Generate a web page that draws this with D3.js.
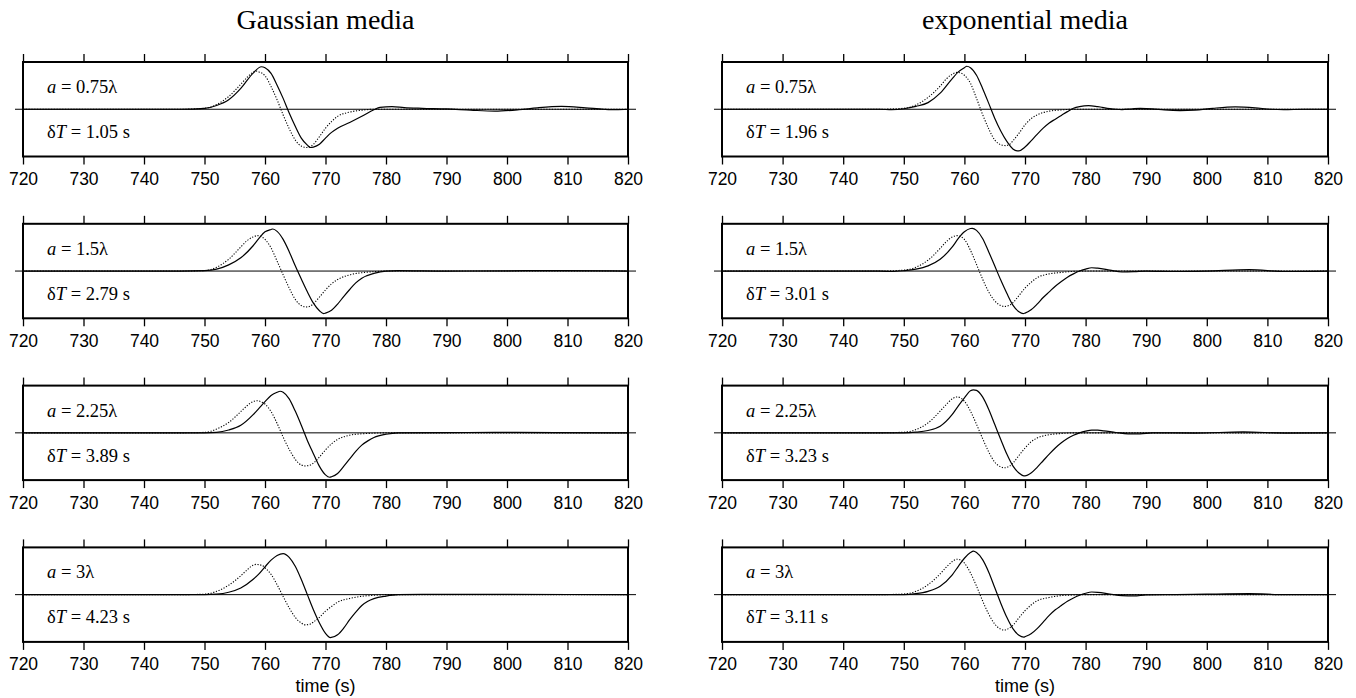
<!DOCTYPE html>
<html>
<head>
<meta charset="utf-8">
<script src="https://cdn.jsdelivr.net/npm/d3@7"></script>
<style>
  html, body { margin: 0; padding: 0; background: #fff; }
  svg { display: block; }
</style>
</head>
<body>
<svg id="chart" width="1356" height="698"></svg>
<script>
// ---------------- DATA ----------------
const tickValues = [720, 730, 740, 750, 760, 770, 780, 790, 800, 810, 820];
const columnTitles = ["Gaussian media", "exponential media"];
const aLabels = ["0.75λ", "1.5λ", "2.25λ", "3λ"];
const dTGauss = ["1.05", "2.79", "3.89", "4.23"];
const dTExp = ["1.96", "3.01", "3.23", "3.11"];

// Gaussian media, a = 0.75λ
const g1Solid = [[720,0],[740,0],[746,0],[750,0.02],[752,0.08],[754,0.2],[756,0.44],[758,0.76],[759.4,0.9],[760,0.88],[761,0.76],[762,0.51],[763,0.23],[764,-0.08],[765,-0.36],[766,-0.61],[767,-0.76],[767.5,-0.81],[768,-0.8],[769,-0.74],[770,-0.61],[771,-0.49],[772,-0.4],[774,-0.28],[776,-0.15],[778,-0.01],[779,0.04],[781,0.056],[783,0.035],[786,0.02],[790,0.007],[794,-0.02],[798,-0.04],[802,-0.01],[805,0.03],[809,0.06],[813,0.03],[816,0],[818,-0.01],[820,0]];
const g1Dot = [[720,0],[746,0],[750,0.02],[752,0.1],[754,0.27],[756,0.53],[757,0.67],[758,0.78],[758.5,0.81],[759,0.79],[760,0.71],[761,0.48],[762,0.2],[763,-0.12],[764,-0.41],[765,-0.65],[766,-0.78],[767,-0.81],[768,-0.74],[769,-0.58],[770,-0.4],[771,-0.26],[772,-0.15],[774,-0.06],[776,-0.02],[778,0],[820,0]];
// Gaussian media, a = 1.5λ
const g2Solid = [[720,0],[746,0],[750,0.01],[752,0.04],[754,0.13],[756,0.28],[758,0.53],[759,0.69],[760,0.83],[761,0.88],[761.3,0.89],[762,0.84],[763,0.67],[764,0.41],[765,0.11],[766,-0.17],[767,-0.44],[768,-0.68],[769,-0.84],[769.7,-0.9],[770,-0.89],[771,-0.83],[772,-0.7],[773,-0.54],[774,-0.39],[775,-0.25],[776,-0.15],[778,-0.05],[780,0],[782,0.01],[790,0],[800,0.005],[809,0.01],[820,0]];
const g2Dot = [[720,0],[746,0],[750,0.01],[752,0.08],[754,0.25],[756,0.51],[757,0.64],[758,0.72],[758.8,0.75],[759.5,0.72],[760,0.67],[761,0.49],[762,0.21],[763,-0.08],[764,-0.36],[765,-0.6],[766,-0.73],[766.8,-0.76],[767.5,-0.74],[768,-0.69],[769,-0.55],[770,-0.4],[771,-0.27],[772,-0.18],[774,-0.08],[776,-0.035],[778,-0.014],[780,0],[820,0]];
// Gaussian media, a = 2.25λ
const g3Solid = [[720,0],[746,0],[750,0],[752,0.01],[754,0.06],[756,0.16],[758,0.38],[759,0.52],[760,0.66],[761,0.79],[762,0.86],[762.5,0.88],[763,0.86],[764,0.72],[765,0.46],[766,0.16],[767,-0.16],[768,-0.44],[769,-0.71],[770,-0.89],[770.7,-0.94],[771,-0.93],[772,-0.86],[773,-0.71],[774,-0.55],[775,-0.39],[776,-0.26],[777,-0.17],[778,-0.1],[780,-0.03],[782,0],[790,0.005],[798,0.01],[808,0.005],[820,0]];
const g3Dot = [[720,0],[746,0],[750,0.01],[752,0.08],[754,0.22],[756,0.45],[757,0.57],[758,0.66],[758.6,0.68],[759.5,0.65],[760,0.61],[761,0.45],[762,0.2],[763,-0.09],[764,-0.35],[765,-0.56],[766,-0.68],[766.7,-0.7],[767.5,-0.68],[768,-0.64],[769,-0.51],[770,-0.36],[771,-0.23],[772,-0.14],[774,-0.05],[776,-0.02],[778,-0.007],[780,0],[820,0]];
// Gaussian media, a = 3λ
const g4Solid = [[720,0],[746,0],[750,0],[752,0.01],[754,0.05],[756,0.14],[758,0.32],[759,0.44],[760,0.59],[761,0.73],[762,0.83],[763,0.87],[764,0.79],[765,0.6],[766,0.32],[767,0],[768,-0.32],[769,-0.6],[770,-0.82],[770.8,-0.91],[772,-0.85],[773,-0.71],[774,-0.53],[775,-0.37],[776,-0.23],[777,-0.14],[778,-0.085],[780,-0.03],[782,0],[786,0.007],[800,0.005],[820,0]];
const g4Dot = [[720,0],[746,0],[750,0.01],[752,0.07],[754,0.2],[756,0.4],[757,0.52],[758,0.62],[758.5,0.64],[759.5,0.62],[760,0.57],[761,0.43],[762,0.21],[763,-0.04],[764,-0.28],[765,-0.48],[766,-0.6],[766.7,-0.64],[767.5,-0.62],[768,-0.58],[769,-0.48],[770,-0.35],[771,-0.25],[772,-0.16],[774,-0.08],[776,-0.035],[778,-0.014],[780,0],[820,0]];

// exponential media, a = 0.75λ
const e1Solid = [[720,0],[746,0],[748,-0.01],[750,0.01],[752,0.06],[754,0.14],[756,0.34],[758,0.65],[759,0.79],[760,0.88],[760.4,0.91],[761,0.88],[762,0.72],[763,0.44],[764,0.13],[765,-0.19],[766,-0.46],[767,-0.68],[768,-0.84],[768.7,-0.88],[769,-0.88],[770,-0.8],[771,-0.67],[772,-0.53],[773,-0.4],[774,-0.29],[775,-0.21],[776,-0.13],[777,-0.05],[778,0.02],[779,0.056],[780.5,0.077],[782,0.056],[784,0.014],[785,0],[786,-0.007],[787.5,0.005],[789,0.02],[791,0.01],[793,-0.015],[795.6,-0.03],[798,-0.02],[801,0.02],[804.7,0.05],[808,0.03],[810.5,0],[812.7,-0.01],[816,0],[820,0]];
const e1Dot = [[720,0],[746,0],[750,0.02],[752,0.09],[754,0.25],[756,0.49],[757,0.64],[758,0.74],[758.8,0.78],[759.5,0.76],[760,0.72],[761,0.55],[762,0.23],[763,-0.11],[764,-0.41],[765,-0.65],[766,-0.75],[766.8,-0.77],[767.5,-0.74],[768,-0.67],[769,-0.51],[770,-0.33],[771,-0.2],[772,-0.12],[774,-0.04],[776,-0.014],[778,0],[820,0]];
// exponential media, a = 1.5λ
const e2Solid = [[720,0],[746,0],[748,-0.01],[750,0.007],[752,0.04],[754,0.11],[756,0.25],[758,0.51],[759,0.69],[760,0.83],[761,0.9],[761.3,0.905],[762,0.86],[763,0.69],[764,0.41],[765,0.11],[766,-0.19],[767,-0.47],[768,-0.72],[769,-0.86],[769.7,-0.9],[770,-0.89],[771,-0.82],[772,-0.7],[773,-0.56],[774,-0.44],[775,-0.32],[776,-0.22],[777,-0.13],[778,-0.06],[779,0],[780,0.04],[781,0.07],[782,0.06],[784,0.02],[786,-0.02],[788,-0.014],[790,0],[795,-0.01],[800,0],[807,0.03],[813,-0.01],[820,0]];
const e2Dot = [[720,0],[746,0],[750,0.02],[752,0.08],[754,0.23],[756,0.48],[757,0.62],[758,0.72],[758.8,0.75],[759.5,0.72],[760,0.67],[761,0.44],[762,0.14],[763,-0.17],[764,-0.44],[765,-0.63],[766,-0.73],[766.6,-0.75],[767.5,-0.72],[768,-0.67],[769,-0.52],[770,-0.36],[771,-0.24],[772,-0.14],[774,-0.06],[776,-0.03],[778,-0.007],[780,0],[820,0]];
// exponential media, a = 2.25λ
const e3Solid = [[720,0],[746,0],[750,0],[752,0.014],[754,0.05],[756,0.14],[758,0.39],[759,0.57],[760,0.74],[761,0.89],[761.5,0.91],[762,0.9],[763,0.76],[764,0.5],[765,0.18],[766,-0.14],[767,-0.45],[768,-0.7],[769,-0.85],[769.8,-0.91],[770,-0.91],[771,-0.85],[772,-0.73],[773,-0.59],[774,-0.45],[775,-0.32],[776,-0.21],[777,-0.12],[778,-0.05],[779,0],[780,0.035],[781,0.057],[782,0.057],[783,0.043],[785,0.007],[787,-0.02],[789,-0.02],[791,0],[798,-0.005],[806,0.02],[813,-0.005],[820,0]];
const e3Dot = [[720,0],[746,0],[750,0.014],[752,0.07],[754,0.21],[756,0.46],[757,0.6],[758,0.72],[758.8,0.76],[759.5,0.73],[760,0.67],[761,0.46],[762,0.18],[763,-0.12],[764,-0.4],[765,-0.62],[766,-0.72],[766.6,-0.74],[767.5,-0.7],[768,-0.64],[769,-0.48],[770,-0.32],[771,-0.19],[772,-0.11],[774,-0.04],[776,-0.014],[778,0],[820,0]];
// exponential media, a = 3λ
const e4Solid = [[720,0],[746,0],[750,0],[752,0.02],[754,0.07],[756,0.18],[758,0.42],[759,0.6],[760,0.77],[761,0.89],[761.5,0.92],[762,0.89],[763,0.74],[764,0.48],[765,0.15],[766,-0.18],[767,-0.48],[768,-0.72],[769,-0.86],[769.8,-0.9],[770,-0.89],[771,-0.83],[772,-0.72],[773,-0.58],[774,-0.44],[775,-0.32],[776,-0.23],[777,-0.14],[778,-0.07],[779,-0.014],[780,0.03],[781,0.056],[782,0.05],[784,0.014],[786,-0.02],[788,-0.028],[790,-0.007],[795,0],[800,0.01],[807,0.02],[813,0],[820,0]];
const e4Dot = [[720,0],[746,0],[750,0.014],[752,0.07],[754,0.21],[756,0.44],[757,0.58],[758,0.7],[758.8,0.75],[759.5,0.73],[760,0.67],[761,0.46],[762,0.18],[763,-0.13],[764,-0.41],[765,-0.62],[766,-0.73],[766.6,-0.75],[767.5,-0.7],[768,-0.65],[769,-0.49],[770,-0.34],[771,-0.22],[772,-0.13],[774,-0.06],[776,-0.02],[778,-0.007],[780,0],[820,0]];

const gaussSolid = [g1Solid, g2Solid, g3Solid, g4Solid];
const gaussDot = [g1Dot, g2Dot, g3Dot, g4Dot];
const expSolid = [e1Solid, e2Solid, e3Solid, e4Solid];
const expDot = [e1Dot, e2Dot, e3Dot, e4Dot];

// ---------------- LAYOUT ----------------
const svg = d3.select("#chart");
const colX = [[23, 628], [722, 1328]];
const panelTop0 = 62, panelStep = 161.8, panelH = 94.5;
const serif = "'Liberation Serif', 'Times New Roman', serif";
const sans = "'Liberation Sans', Arial, Helvetica, sans-serif";

const columns = [
  { solid: gaussSolid, dot: gaussDot, dT: dTGauss, title: columnTitles[0] },
  { solid: expSolid, dot: expDot, dT: dTExp, title: columnTitles[1] }
];

columns.forEach((col, ci) => {
  const [x0, x1] = colX[ci];
  const x = d3.scaleLinear().domain([720, 820]).range([x0, x1]);

  svg.append("text")
    .attr("x", (x0 + x1) / 2).attr("y", 28.5)
    .attr("text-anchor", "middle")
    .attr("font-family", serif).attr("font-size", 28)
    .attr("fill", "#000")
    .text(col.title);

  for (let pi = 0; pi < 4; pi++) {
    const top = panelTop0 + pi * panelStep;
    const bottom = top + panelH;
    const y = d3.scaleLinear().domain([-1, 1]).range([bottom, top]);
    const g = svg.append("g");

    // zero line extending beyond frame
    g.append("line")
      .attr("x1", x0 - 8).attr("x2", x1 + 8)
      .attr("y1", y(0)).attr("y2", y(0))
      .attr("stroke", "#000").attr("stroke-width", 1);

    const line = d3.line().x(d => x(d[0])).y(d => y(d[1])).curve(d3.curveMonotoneX);

    g.append("path").datum(col.dot[pi])
      .attr("d", line).attr("fill", "none")
      .attr("stroke", "#000").attr("stroke-width", 1.1)
      .attr("stroke-dasharray", "1.2,1.6");

    g.append("path").datum(col.solid[pi])
      .attr("d", line).attr("fill", "none")
      .attr("stroke", "#000").attr("stroke-width", 1.2);

    // frame
    g.append("rect")
      .attr("x", x0).attr("y", top)
      .attr("width", x1 - x0).attr("height", panelH)
      .attr("fill", "none").attr("stroke", "#000").attr("stroke-width", 2);

    // top ticks (outward)
    const topAxis = d3.axisTop(x).tickValues(tickValues).tickSize(8).tickFormat("");
    const ta = g.append("g").attr("transform", `translate(0,${top})`).call(topAxis);
    ta.select(".domain").remove();
    ta.selectAll(".tick line").attr("stroke-width", 1.3);

    // bottom axis with labels
    const botAxis = d3.axisBottom(x).tickValues(tickValues).tickSize(8).tickPadding(5).tickFormat(d3.format("d"));
    const ba = g.append("g").attr("transform", `translate(0,${bottom})`).call(botAxis);
    ba.select(".domain").remove();
    ba.selectAll(".tick line").attr("stroke-width", 1.3);
    ba.selectAll(".tick text")
      .attr("font-family", sans).attr("font-size", 17.5)
      .attr("fill", "#000").attr("dy", null).attr("y", 28.5);

    // labels
    const t1 = g.append("text")
      .attr("x", x0 + 24).attr("y", top + 31)
      .attr("font-family", serif).attr("font-size", 18.5).attr("fill", "#000");
    t1.append("tspan").attr("font-style", "italic").text("a");
    t1.append("tspan").text(" = " + aLabels[pi]);

    const t2 = g.append("text")
      .attr("x", x0 + 24).attr("y", top + 76)
      .attr("font-family", serif).attr("font-size", 18.5).attr("fill", "#000");
    t2.append("tspan").text("δ");
    t2.append("tspan").attr("font-style", "italic").text("T");
    t2.append("tspan").text(" = " + col.dT[pi] + " s");

    if (pi === 3) {
      svg.append("text")
        .attr("x", (x0 + x1) / 2).attr("y", bottom + 50)
        .attr("text-anchor", "middle")
        .attr("font-family", sans).attr("font-size", 18)
        .attr("fill", "#000")
        .text("time (s)");
    }
  }
});
</script>
</body>
</html>
